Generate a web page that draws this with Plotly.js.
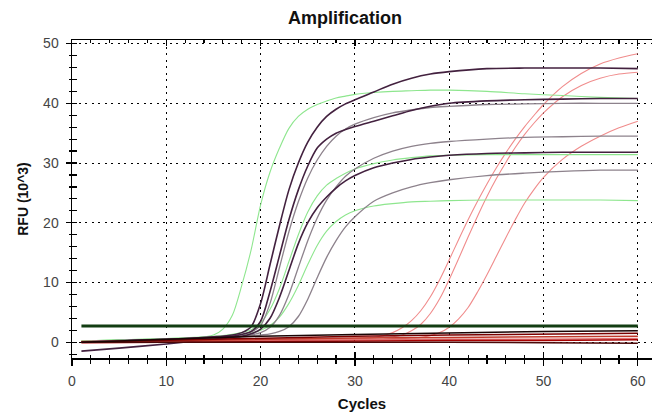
<!DOCTYPE html>
<html>
<head>
<meta charset="utf-8">
<script src="https://cdn.plot.ly/plotly-3.0.1.min.js"></script>
<style>html,body{margin:0;padding:0;background:#fff;}#chart{width:654px;height:413px;}</style>
</head>
<body>
<div id="chart"></div>
<script>
// ---- Data ----
const cyclesEarly = [1, 5, 10, 13, 15, 16, 17, 18, 19, 20, 21, 22, 23, 24, 25, 26, 27, 28, 29, 30, 32, 34, 36, 38, 40, 44, 48, 52, 56, 60];
const green1 = [0.1, 0.3, 0.5, 0.7, 1.2, 2.2, 4.5, 9.5, 15.5, 23.0, 28.5, 32.5, 35.8, 37.8, 39.0, 39.8, 40.4, 40.9, 41.2, 41.5, 41.8, 42.0, 42.1, 42.2, 42.2, 42.0, 41.6, 41.3, 41.0, 40.8];
const green2 = [0.2, 0.4, 0.6, 0.8, 1.0, 1.1, 1.3, 1.6, 2.1, 3.2, 5.5, 9.0, 13.5, 18.0, 21.8, 24.5, 26.3, 27.4, 28.3, 29.0, 29.9, 30.5, 30.9, 31.2, 31.3, 31.4, 31.4, 31.4, 31.4, 31.4];
const green3 = [0.2, 0.4, 0.6, 0.7, 0.8, 0.9, 1.0, 1.2, 1.5, 2.0, 2.8, 4.2, 6.5, 9.5, 13.0, 16.2, 18.6, 20.2, 21.3, 22.0, 22.8, 23.2, 23.5, 23.6, 23.7, 23.8, 23.8, 23.8, 23.8, 23.7];
const purple1 = [0.0, 0.2, 0.5, 0.7, 0.9, 1.0, 1.2, 1.6, 2.6, 6.5, 13.0, 19.5, 25.5, 30.0, 33.5, 36.0, 37.8, 39.0, 39.9, 40.6, 41.9, 43.2, 44.2, 44.9, 45.3, 45.8, 45.9, 45.9, 45.9, 45.8];
const purple2 = [0.0, 0.2, 0.4, 0.6, 0.8, 0.9, 1.0, 1.3, 1.8, 3.5, 8.5, 14.5, 20.5, 25.5, 29.5, 32.5, 34.0, 35.0, 35.6, 36.1, 37.0, 37.9, 38.8, 39.5, 40.0, 40.4, 40.6, 40.7, 40.8, 40.8];
const purple3 = [-1.5, -1.0, -0.3, 0.2, 0.5, 0.6, 0.8, 1.0, 1.4, 2.2, 4.0, 7.5, 12.0, 16.5, 20.0, 22.5, 24.3, 25.8, 27.0, 27.9, 29.2, 30.0, 30.6, 31.0, 31.3, 31.6, 31.7, 31.8, 31.8, 31.8];
const gray1 = [0.1, 0.3, 0.5, 0.7, 0.9, 1.0, 1.1, 1.3, 1.7, 2.8, 6.5, 12.5, 18.5, 23.5, 27.5, 30.5, 32.8, 34.5, 35.7, 36.5, 37.6, 38.4, 38.9, 39.3, 39.5, 39.8, 39.9, 40.0, 40.0, 40.0];
const gray2 = [0.1, 0.3, 0.5, 0.6, 0.7, 0.8, 0.9, 1.0, 1.2, 1.6, 2.5, 4.5, 8.0, 12.5, 17.0, 20.8, 23.8, 26.0, 27.8, 29.0, 30.8, 32.0, 32.8, 33.3, 33.6, 34.0, 34.3, 34.4, 34.5, 34.5];
const gray3 = [0.0, 0.2, 0.4, 0.5, 0.6, 0.7, 0.8, 0.9, 1.0, 1.2, 1.4, 1.8, 2.6, 4.3, 7.2, 10.8, 14.2, 17.0, 19.3, 21.0, 23.6, 25.0, 26.0, 26.7, 27.2, 27.9, 28.3, 28.6, 28.8, 28.8];

const cyclesLate = [1, 10, 20, 30, 32, 33, 34, 35, 36, 37, 38, 39, 40, 41, 42, 43, 44, 45, 46, 47, 48, 49, 50, 52, 54, 56, 58, 60];
const red1 = [0.0, 0.2, 0.4, 0.6, 0.8, 1.1, 1.6, 2.4, 3.6, 5.3, 7.6, 10.5, 13.8, 17.2, 20.5, 23.6, 26.5, 29.2, 31.7, 34.0, 36.1, 38.0, 39.8, 42.8, 45.0, 46.6, 47.6, 48.3];
const red2 = [0.1, 0.3, 0.5, 0.6, 0.7, 0.8, 0.9, 1.2, 1.9, 3.0, 4.8, 7.3, 10.5, 14.0, 17.6, 21.1, 24.4, 27.4, 30.1, 32.6, 34.8, 36.7, 38.4, 41.1, 43.0, 44.2, 44.9, 45.2];
const red3 = [0.2, 0.3, 0.4, 0.5, 0.5, 0.5, 0.6, 0.6, 0.7, 0.8, 1.1, 1.6, 2.5, 3.9, 5.8, 8.4, 11.3, 14.4, 17.5, 20.5, 23.3, 25.6, 27.6, 30.6, 32.8, 34.5, 35.9, 37.0];

const cyclesBase = [1, 10, 20, 30, 40, 50, 60];
const base1 = [0.0, 0.5, 1.0, 1.3, 1.6, 1.8, 1.9];
const base2 = [0.0, 0.3, 0.7, 1.0, 1.2, 1.4, 1.5];
const base3 = [0.0, 0.2, 0.5, 0.7, 0.8, 0.9, 1.0];
const base4 = [0.1, 0.2, 0.3, 0.4, 0.5, 0.5, 0.6];
const base5 = [0.0, 0.0, 0.1, 0.1, 0.0, -0.1, -0.2];
const base6 = [-0.1, 0.0, 0.1, 0.2, 0.3, 0.3, 0.4];

const thresholdCycles = [1, 60];
const thresholdValues = [2.7, 2.7];

const xTickVals = [0, 10, 20, 30, 40, 50, 60];
const yTickVals = [0, 10, 20, 30, 40, 50];

// ---- Styles ----
const GREEN = '#8ee68e', PURPLE = '#43213f', GRAY = '#8d828c', RED = '#f08c8c';
function curve(x, y, color, width) {
  return {x: x, y: y, type: 'scatter', mode: 'lines',
    line: {color: color, width: width, shape: 'spline', smoothing: 0.8},
    hoverinfo: 'skip', showlegend: false};
}
function straight(x, y, color, width) {
  return {x: x, y: y, type: 'scatter', mode: 'lines',
    line: {color: color, width: width}, hoverinfo: 'skip', showlegend: false};
}

const traces = [
  curve(cyclesLate, red1, RED, 1.1),
  curve(cyclesLate, red2, RED, 1.1),
  curve(cyclesLate, red3, RED, 1.1),
  curve(cyclesEarly, green1, GREEN, 1.1),
  curve(cyclesEarly, green2, GREEN, 1.1),
  curve(cyclesEarly, green3, GREEN, 1.1),
  curve(cyclesEarly, gray1, GRAY, 1.3),
  curve(cyclesEarly, gray2, GRAY, 1.3),
  curve(cyclesEarly, gray3, GRAY, 1.3),
  curve(cyclesEarly, purple1, PURPLE, 1.6),
  curve(cyclesEarly, purple2, PURPLE, 1.6),
  curve(cyclesEarly, purple3, PURPLE, 1.6),
  straight(cyclesBase, base4, '#e07070', 1.5),
  straight(cyclesBase, base6, '#a80000', 1.5),
  straight(cyclesBase, base3, '#c0392b', 1.5),
  straight(cyclesBase, base2, '#7a0000', 1.5),
  straight(cyclesBase, base5, '#4a0808', 1.5),
  straight(cyclesBase, base1, '#1a0505', 1.5),
  straight(thresholdCycles, thresholdValues, '#123d12', 3),
  {x: [], y: [], xaxis: 'x2', yaxis: 'y2', type: 'scatter', showlegend: false}
];

const FONT = 'Liberation Sans, Arial, sans-serif';
const tickFont = {family: FONT, size: 14, color: '#444'};
const layout = {
  width: 654, height: 413,
  margin: {l: 72, r: 2, t: 40, b: 55},
  paper_bgcolor: '#fff', plot_bgcolor: '#fff',
  showlegend: false,
  title: {text: 'Amplification', font: {family: FONT, size: 18, color: '#111', weight: 700},
    x: 345 / 654, xanchor: 'center', xref: 'container', y: 1 - 18 / 413, yanchor: 'middle', yref: 'container'},
  xaxis: {
    range: [0, 61.5], tickvals: xTickVals, ticktext: xTickVals.map(String),
    showgrid: true, gridcolor: '#000', griddash: '2px,4.5px', gridwidth: 1,
    zeroline: false, showline: true, linecolor: '#000', linewidth: 1.5, mirror: true,
    ticks: 'outside', ticklen: 6, tickcolor: '#000', tickwidth: 1.2,
    minor: {dtick: 2, tick0: 0, ticks: 'outside', ticklen: 4, tickcolor: '#000', showgrid: false},
    tickfont: tickFont, ticklabelstandoff: 4,
    title: {text: 'Cycles', font: {family: FONT, size: 15, color: '#111', weight: 700}, standoff: 10}
  },
  xaxis2: {
    overlaying: 'x', matches: 'x', anchor: 'y', side: 'bottom',
    range: [0, 61.5], tickvals: xTickVals, showticklabels: false,
    showgrid: false, zeroline: false, showline: false, mirror: 'allticks',
    ticks: 'inside', ticklen: 6, tickcolor: '#000', tickwidth: 1.2,
    minor: {dtick: 2, tick0: 0, ticks: 'inside', ticklen: 3, tickcolor: '#000', showgrid: false}
  },
  yaxis: {
    range: [-2.65, 50.6], tickvals: yTickVals, ticktext: yTickVals.map(String),
    showgrid: true, gridcolor: '#000', griddash: '2px,4.5px', gridwidth: 1,
    zeroline: false, showline: true, linecolor: '#000', linewidth: 1.5,
    ticks: 'outside', ticklen: 5, tickcolor: '#000', tickwidth: 1.2,
    minor: {dtick: 2, tick0: 0, ticks: 'outside', ticklen: 2, tickcolor: '#000', showgrid: false},
    tickfont: tickFont, ticklabelstandoff: 4,
    title: {text: 'RFU (10^3)', font: {family: FONT, size: 14, color: '#111', weight: 700}, standoff: 11}
  },
  yaxis2: {
    overlaying: 'y', matches: 'y', anchor: 'x', side: 'left',
    range: [-2.65, 50.6], tickvals: yTickVals, showticklabels: false,
    showgrid: false, zeroline: false, showline: false,
    ticks: 'inside', ticklen: 5, tickcolor: '#000', tickwidth: 1.2,
    minor: {dtick: 2, tick0: 0, ticks: 'inside', ticklen: 5, tickcolor: '#000', showgrid: false}
  }
};

Plotly.newPlot('chart', traces, layout, {staticPlot: true, displayModeBar: false});
</script>
</body>
</html>
